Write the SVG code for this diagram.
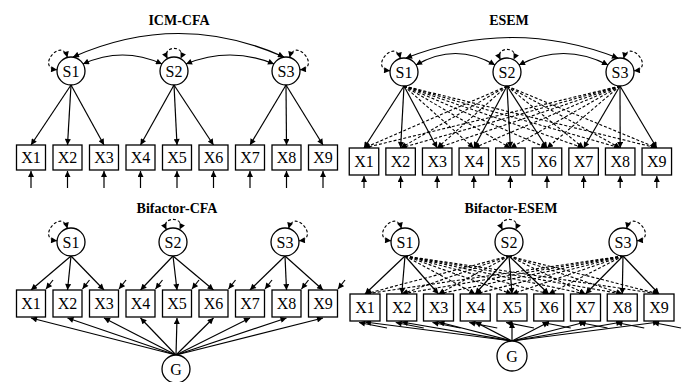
<svg xmlns="http://www.w3.org/2000/svg" width="682" height="382" viewBox="0 0 682 382">
<style>
.t{font-family:"Liberation Serif","Times New Roman",serif;font-weight:bold;font-size:14px;text-anchor:middle}
.lb{font-family:"Liberation Serif","Times New Roman",serif;font-size:16px;text-anchor:middle}
.c{fill:#fff;stroke:#000;stroke-width:1.3}
.b{fill:#fff;stroke:#000;stroke-width:1.3}
.s{stroke:#000;stroke-width:1.2;fill:none;marker-end:url(#ah)}
.d{stroke:#000;stroke-width:1.1;fill:none;stroke-dasharray:3,2;marker-end:url(#ah)}
.cv{stroke:#000;stroke-width:1.2;fill:none;marker-start:url(#ah);marker-end:url(#ah)}
.lp{stroke:#000;stroke-width:1.1;fill:none;stroke-dasharray:3,2;marker-start:url(#ah);marker-end:url(#ah)}
</style>
<defs>
<marker id="ah" viewBox="0 0 10 10" refX="10" refY="5" markerWidth="7" markerHeight="6" markerUnits="userSpaceOnUse" orient="auto-start-reverse"><path d="M0,0 L10,5 L0,10 z" fill="#000"/></marker>
</defs>
<rect width="682" height="382" fill="#fff"/>
<text class="t" x="179" y="25">ICM-CFA</text>
<text class="t" x="509" y="25">ESEM</text>
<text class="t" x="177" y="213">Bifactor-CFA</text>
<text class="t" x="511" y="213">Bifactor-ESEM</text>
<g id="connectors">
<!-- Panel A -->
<path class="cv" d="M73,57 Q179,10 284,57"/>
<path class="cv" d="M83,64 Q122.5,46 162,64"/>
<path class="cv" d="M186,64 Q230,46 274,64"/>
<path class="lp" d="M67.4,57.5 C61.7,36.2 35.2,67.9 57.1,69.8"/>
<path class="lp" d="M167.4,58.6 C160.8,45 187.2,45 180.6,58.6"/>
<path class="lp" d="M289.6,57.5 C295.3,36.2 321.8,67.9 299.9,69.8"/>
<line class="s" x1="71" y1="85" x2="31" y2="145"/>
<line class="s" x1="71" y1="85" x2="67.5" y2="145"/>
<line class="s" x1="71" y1="85" x2="104" y2="145"/>
<line class="s" x1="174" y1="85" x2="140.5" y2="145"/>
<line class="s" x1="174" y1="85" x2="177" y2="145"/>
<line class="s" x1="174" y1="85" x2="213.5" y2="145"/>
<line class="s" x1="286" y1="85" x2="250" y2="145"/>
<line class="s" x1="286" y1="85" x2="286.5" y2="145"/>
<line class="s" x1="286" y1="85" x2="323" y2="145"/>
<line class="s" x1="31" y1="188" x2="31" y2="171"/>
<line class="s" x1="67.5" y1="188" x2="67.5" y2="171"/>
<line class="s" x1="104" y1="188" x2="104" y2="171"/>
<line class="s" x1="140.5" y1="188" x2="140.5" y2="171"/>
<line class="s" x1="177" y1="188" x2="177" y2="171"/>
<line class="s" x1="213.5" y1="188" x2="213.5" y2="171"/>
<line class="s" x1="250" y1="188" x2="250" y2="171"/>
<line class="s" x1="286.5" y1="188" x2="286.5" y2="171"/>
<line class="s" x1="323" y1="188" x2="323" y2="171"/>
<!-- Panel B -->
<path class="cv" d="M406,58 Q512,17 618,58"/>
<path class="cv" d="M416,65 Q455.5,42 495,65"/>
<path class="cv" d="M519,65 Q563.5,42 608,65"/>
<path class="lp" d="M400.4,58.5 C394.7,37.2 368.2,68.9 390.1,70.8"/>
<path class="lp" d="M500.4,59.6 C493.8,46 520.2,46 513.6,59.6"/>
<path class="lp" d="M623.6,58.5 C629.3,37.2 655.8,68.9 633.9,70.8"/>
<line class="s" x1="404" y1="86" x2="364" y2="148"/>
<line class="s" x1="404" y1="86" x2="400.6" y2="148"/>
<line class="s" x1="404" y1="86" x2="437.2" y2="148"/>
<line class="d" x1="404" y1="86" x2="473.8" y2="148"/>
<line class="d" x1="404" y1="86" x2="510.4" y2="148"/>
<line class="d" x1="404" y1="86" x2="547" y2="148"/>
<line class="d" x1="404" y1="86" x2="583.6" y2="148"/>
<line class="d" x1="404" y1="86" x2="620.2" y2="148"/>
<line class="d" x1="404" y1="86" x2="656.8" y2="148"/>
<line class="d" x1="507" y1="86" x2="364" y2="148"/>
<line class="d" x1="507" y1="86" x2="400.6" y2="148"/>
<line class="d" x1="507" y1="86" x2="437.2" y2="148"/>
<line class="s" x1="507" y1="86" x2="473.8" y2="148"/>
<line class="s" x1="507" y1="86" x2="510.4" y2="148"/>
<line class="s" x1="507" y1="86" x2="547" y2="148"/>
<line class="d" x1="507" y1="86" x2="583.6" y2="148"/>
<line class="d" x1="507" y1="86" x2="620.2" y2="148"/>
<line class="d" x1="507" y1="86" x2="656.8" y2="148"/>
<line class="d" x1="620" y1="86" x2="364" y2="148"/>
<line class="d" x1="620" y1="86" x2="400.6" y2="148"/>
<line class="d" x1="620" y1="86" x2="437.2" y2="148"/>
<line class="d" x1="620" y1="86" x2="473.8" y2="148"/>
<line class="d" x1="620" y1="86" x2="510.4" y2="148"/>
<line class="d" x1="620" y1="86" x2="547" y2="148"/>
<line class="s" x1="620" y1="86" x2="583.6" y2="148"/>
<line class="s" x1="620" y1="86" x2="620.2" y2="148"/>
<line class="s" x1="620" y1="86" x2="656.8" y2="148"/>
<line class="s" x1="364" y1="188" x2="364" y2="176"/>
<line class="s" x1="400.6" y1="188" x2="400.6" y2="176"/>
<line class="s" x1="437.2" y1="188" x2="437.2" y2="176"/>
<line class="s" x1="473.8" y1="188" x2="473.8" y2="176"/>
<line class="s" x1="510.4" y1="188" x2="510.4" y2="176"/>
<line class="s" x1="547" y1="188" x2="547" y2="176"/>
<line class="s" x1="583.6" y1="188" x2="583.6" y2="176"/>
<line class="s" x1="620.2" y1="188" x2="620.2" y2="176"/>
<line class="s" x1="656.8" y1="188" x2="656.8" y2="176"/>
<!-- Panel C -->
<path class="lp" d="M67.4,228.5 C61.7,207.2 35.2,238.9 57.1,240.8"/>
<path class="lp" d="M166.4,229.6 C159.8,216 186.2,216 179.6,229.6"/>
<path class="lp" d="M288.6,228.5 C294.3,207.2 320.8,238.9 298.9,240.8"/>
<line class="s" x1="71" y1="256" x2="31" y2="290"/>
<line class="s" x1="71" y1="256" x2="67.5" y2="290"/>
<line class="s" x1="71" y1="256" x2="104" y2="290"/>
<line class="s" x1="173" y1="256" x2="140.5" y2="290"/>
<line class="s" x1="173" y1="256" x2="177" y2="290"/>
<line class="s" x1="173" y1="256" x2="213.5" y2="290"/>
<line class="s" x1="285" y1="256" x2="250" y2="290"/>
<line class="s" x1="285" y1="256" x2="286.5" y2="290"/>
<line class="s" x1="285" y1="256" x2="323" y2="290"/>
<line class="s" x1="53" y1="280" x2="46" y2="289"/>
<line class="s" x1="89.5" y1="280" x2="82.5" y2="289"/>
<line class="s" x1="126" y1="280" x2="119" y2="289"/>
<line class="s" x1="162.5" y1="280" x2="155.5" y2="289"/>
<line class="s" x1="199" y1="280" x2="192" y2="289"/>
<line class="s" x1="235.5" y1="280" x2="228.5" y2="289"/>
<line class="s" x1="272" y1="280" x2="265" y2="289"/>
<line class="s" x1="308.5" y1="280" x2="301.5" y2="289"/>
<line class="s" x1="345" y1="280" x2="338" y2="289"/>
<line class="s" x1="176" y1="355" x2="31" y2="318"/>
<line class="s" x1="176" y1="355" x2="67.5" y2="318"/>
<line class="s" x1="176" y1="355" x2="104" y2="318"/>
<line class="s" x1="176" y1="355" x2="140.5" y2="318"/>
<line class="s" x1="176" y1="355" x2="177" y2="318"/>
<line class="s" x1="176" y1="355" x2="213.5" y2="318"/>
<line class="s" x1="176" y1="355" x2="250" y2="318"/>
<line class="s" x1="176" y1="355" x2="286.5" y2="318"/>
<line class="s" x1="176" y1="355" x2="323" y2="318"/>
<!-- Panel D -->
<path class="lp" d="M401.4,228.5 C395.7,207.2 369.2,238.9 391.1,240.8"/>
<path class="lp" d="M502.4,229.6 C495.8,216 522.2,216 515.6,229.6"/>
<path class="lp" d="M626.6,228.5 C632.3,207.2 658.8,238.9 636.9,240.8"/>
<line class="s" x1="405" y1="256" x2="365" y2="294"/>
<line class="s" x1="405" y1="256" x2="401.75" y2="294"/>
<line class="s" x1="405" y1="256" x2="438.5" y2="294"/>
<line class="d" x1="405" y1="256" x2="475.25" y2="294"/>
<line class="d" x1="405" y1="256" x2="512" y2="294"/>
<line class="d" x1="405" y1="256" x2="548.75" y2="294"/>
<line class="d" x1="405" y1="256" x2="585.5" y2="294"/>
<line class="d" x1="405" y1="256" x2="622.25" y2="294"/>
<line class="d" x1="405" y1="256" x2="659" y2="294"/>
<line class="d" x1="509" y1="256" x2="365" y2="294"/>
<line class="d" x1="509" y1="256" x2="401.75" y2="294"/>
<line class="d" x1="509" y1="256" x2="438.5" y2="294"/>
<line class="s" x1="509" y1="256" x2="475.25" y2="294"/>
<line class="s" x1="509" y1="256" x2="512" y2="294"/>
<line class="s" x1="509" y1="256" x2="548.75" y2="294"/>
<line class="d" x1="509" y1="256" x2="585.5" y2="294"/>
<line class="d" x1="509" y1="256" x2="622.25" y2="294"/>
<line class="d" x1="509" y1="256" x2="659" y2="294"/>
<line class="d" x1="623" y1="256" x2="365" y2="294"/>
<line class="d" x1="623" y1="256" x2="401.75" y2="294"/>
<line class="d" x1="623" y1="256" x2="438.5" y2="294"/>
<line class="d" x1="623" y1="256" x2="475.25" y2="294"/>
<line class="d" x1="623" y1="256" x2="512" y2="294"/>
<line class="d" x1="623" y1="256" x2="548.75" y2="294"/>
<line class="s" x1="623" y1="256" x2="585.5" y2="294"/>
<line class="s" x1="623" y1="256" x2="622.25" y2="294"/>
<line class="s" x1="623" y1="256" x2="659" y2="294"/>
<line class="s" x1="387" y1="328" x2="359" y2="322.5"/>
<line class="s" x1="423.75" y1="328" x2="395.75" y2="322.5"/>
<line class="s" x1="460.5" y1="328" x2="432.5" y2="322.5"/>
<line class="s" x1="497.25" y1="328" x2="469.25" y2="322.5"/>
<line class="s" x1="534" y1="328" x2="506" y2="322.5"/>
<line class="s" x1="570.75" y1="328" x2="542.75" y2="322.5"/>
<line class="s" x1="607.5" y1="328" x2="579.5" y2="322.5"/>
<line class="s" x1="644.25" y1="328" x2="616.25" y2="322.5"/>
<line class="s" x1="681" y1="328" x2="653" y2="322.5"/>
<line class="s" x1="512" y1="341" x2="365" y2="322"/>
<line class="s" x1="512" y1="341" x2="401.75" y2="322"/>
<line class="s" x1="512" y1="341" x2="438.5" y2="322"/>
<line class="s" x1="512" y1="341" x2="475.25" y2="322"/>
<line class="s" x1="512" y1="341" x2="512" y2="322"/>
<line class="s" x1="512" y1="341" x2="548.75" y2="322"/>
<line class="s" x1="512" y1="341" x2="585.5" y2="322"/>
<line class="s" x1="512" y1="341" x2="622.25" y2="322"/>
<line class="s" x1="512" y1="341" x2="659" y2="322"/>
</g>
<!-- Panel A nodes -->
<g id="A-S1"><circle class="c" cx="71" cy="71" r="14"/><text class="lb" x="71" y="76.5">S1</text></g>
<g id="A-S2"><circle class="c" cx="174" cy="71" r="14"/><text class="lb" x="174" y="76.5">S2</text></g>
<g id="A-S3"><circle class="c" cx="286" cy="71" r="14"/><text class="lb" x="286" y="76.5">S3</text></g>
<g id="A-X1"><rect class="b" x="16.5" y="145" width="29" height="25"/><text class="lb" x="31" y="163">X1</text></g>
<g id="A-X2"><rect class="b" x="53" y="145" width="29" height="25"/><text class="lb" x="67.5" y="163">X2</text></g>
<g id="A-X3"><rect class="b" x="89.5" y="145" width="29" height="25"/><text class="lb" x="104" y="163">X3</text></g>
<g id="A-X4"><rect class="b" x="126" y="145" width="29" height="25"/><text class="lb" x="140.5" y="163">X4</text></g>
<g id="A-X5"><rect class="b" x="162.5" y="145" width="29" height="25"/><text class="lb" x="177" y="163">X5</text></g>
<g id="A-X6"><rect class="b" x="199" y="145" width="29" height="25"/><text class="lb" x="213.5" y="163">X6</text></g>
<g id="A-X7"><rect class="b" x="235.5" y="145" width="29" height="25"/><text class="lb" x="250" y="163">X7</text></g>
<g id="A-X8"><rect class="b" x="272" y="145" width="29" height="25"/><text class="lb" x="286.5" y="163">X8</text></g>
<g id="A-X9"><rect class="b" x="308.5" y="145" width="29" height="25"/><text class="lb" x="323" y="163">X9</text></g>
<!-- Panel B nodes -->
<g id="B-S1"><circle class="c" cx="404" cy="72" r="14"/><text class="lb" x="404" y="77.5">S1</text></g>
<g id="B-S2"><circle class="c" cx="507" cy="72" r="14"/><text class="lb" x="507" y="77.5">S2</text></g>
<g id="B-S3"><circle class="c" cx="620" cy="72" r="14"/><text class="lb" x="620" y="77.5">S3</text></g>
<g id="B-X1"><rect class="b" x="349.25" y="148" width="29.5" height="27"/><text class="lb" x="364" y="167">X1</text></g>
<g id="B-X2"><rect class="b" x="385.85" y="148" width="29.5" height="27"/><text class="lb" x="400.6" y="167">X2</text></g>
<g id="B-X3"><rect class="b" x="422.45" y="148" width="29.5" height="27"/><text class="lb" x="437.2" y="167">X3</text></g>
<g id="B-X4"><rect class="b" x="459.05" y="148" width="29.5" height="27"/><text class="lb" x="473.8" y="167">X4</text></g>
<g id="B-X5"><rect class="b" x="495.65" y="148" width="29.5" height="27"/><text class="lb" x="510.4" y="167">X5</text></g>
<g id="B-X6"><rect class="b" x="532.25" y="148" width="29.5" height="27"/><text class="lb" x="547" y="167">X6</text></g>
<g id="B-X7"><rect class="b" x="568.85" y="148" width="29.5" height="27"/><text class="lb" x="583.6" y="167">X7</text></g>
<g id="B-X8"><rect class="b" x="605.45" y="148" width="29.5" height="27"/><text class="lb" x="620.2" y="167">X8</text></g>
<g id="B-X9"><rect class="b" x="642.05" y="148" width="29.5" height="27"/><text class="lb" x="656.8" y="167">X9</text></g>
<!-- Panel C nodes -->
<g id="C-S1"><circle class="c" cx="71" cy="242" r="14"/><text class="lb" x="71" y="247.5">S1</text></g>
<g id="C-S2"><circle class="c" cx="173" cy="242" r="14"/><text class="lb" x="173" y="247.5">S2</text></g>
<g id="C-S3"><circle class="c" cx="285" cy="242" r="14"/><text class="lb" x="285" y="247.5">S3</text></g>
<g id="C-X1"><rect class="b" x="16.5" y="290" width="29" height="27"/><text class="lb" x="31" y="309">X1</text></g>
<g id="C-X2"><rect class="b" x="53" y="290" width="29" height="27"/><text class="lb" x="67.5" y="309">X2</text></g>
<g id="C-X3"><rect class="b" x="89.5" y="290" width="29" height="27"/><text class="lb" x="104" y="309">X3</text></g>
<g id="C-X4"><rect class="b" x="126" y="290" width="29" height="27"/><text class="lb" x="140.5" y="309">X4</text></g>
<g id="C-X5"><rect class="b" x="162.5" y="290" width="29" height="27"/><text class="lb" x="177" y="309">X5</text></g>
<g id="C-X6"><rect class="b" x="199" y="290" width="29" height="27"/><text class="lb" x="213.5" y="309">X6</text></g>
<g id="C-X7"><rect class="b" x="235.5" y="290" width="29" height="27"/><text class="lb" x="250" y="309">X7</text></g>
<g id="C-X8"><rect class="b" x="272" y="290" width="29" height="27"/><text class="lb" x="286.5" y="309">X8</text></g>
<g id="C-X9"><rect class="b" x="308.5" y="290" width="29" height="27"/><text class="lb" x="323" y="309">X9</text></g>
<g id="C-G"><circle class="c" cx="176" cy="369" r="14"/><text class="lb" x="176" y="374.5">G</text></g>
<!-- Panel D nodes -->
<g id="D-S1"><circle class="c" cx="405" cy="242" r="14"/><text class="lb" x="405" y="247.5">S1</text></g>
<g id="D-S2"><circle class="c" cx="509" cy="242" r="14"/><text class="lb" x="509" y="247.5">S2</text></g>
<g id="D-S3"><circle class="c" cx="623" cy="242" r="14"/><text class="lb" x="623" y="247.5">S3</text></g>
<g id="D-X1"><rect class="b" x="350" y="294" width="30" height="27"/><text class="lb" x="365" y="313">X1</text></g>
<g id="D-X2"><rect class="b" x="386.75" y="294" width="30" height="27"/><text class="lb" x="401.75" y="313">X2</text></g>
<g id="D-X3"><rect class="b" x="423.5" y="294" width="30" height="27"/><text class="lb" x="438.5" y="313">X3</text></g>
<g id="D-X4"><rect class="b" x="460.25" y="294" width="30" height="27"/><text class="lb" x="475.25" y="313">X4</text></g>
<g id="D-X5"><rect class="b" x="497" y="294" width="30" height="27"/><text class="lb" x="512" y="313">X5</text></g>
<g id="D-X6"><rect class="b" x="533.75" y="294" width="30" height="27"/><text class="lb" x="548.75" y="313">X6</text></g>
<g id="D-X7"><rect class="b" x="570.5" y="294" width="30" height="27"/><text class="lb" x="585.5" y="313">X7</text></g>
<g id="D-X8"><rect class="b" x="607.25" y="294" width="30" height="27"/><text class="lb" x="622.25" y="313">X8</text></g>
<g id="D-X9"><rect class="b" x="644" y="294" width="30" height="27"/><text class="lb" x="659" y="313">X9</text></g>
<g id="D-G"><circle class="c" cx="512" cy="356" r="15"/><text class="lb" x="512" y="361.5">G</text></g>
</svg>
